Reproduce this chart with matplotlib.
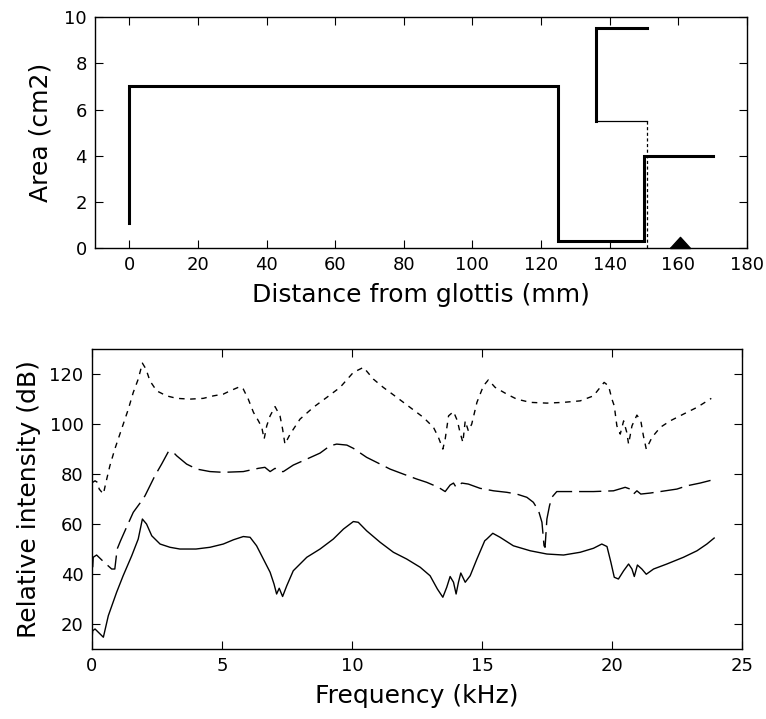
import matplotlib.pyplot as plt

# --- area function (vocal tract + side branch) ---
tract_x = [0, 0, 125, 125, 150, 150, 170]
tract_y = [1.1, 7.0, 7.0, 0.3, 0.3, 4.0, 4.0]
branch_x = [151, 136, 136]
branch_y = [9.55, 9.55, 5.5]
neck_x = [136, 151]
neck_y = [5.5, 5.5]
joint_x = [151, 151]
joint_y = [5.5, 0.0]
lip_x = 160.5

# --- spectra (kHz, dB) ---
solid_f = [0.0, 0.03, 0.12, 0.44, 0.63, 0.95, 1.2, 1.53, 1.78, 1.94, 2.1, 2.3, 2.62, 3.0, 3.38,
           4.0, 4.54, 5.05, 5.44, 5.82, 6.08, 6.33, 6.59, 6.85, 7.0, 7.1, 7.2, 7.33, 7.49, 7.74,
           8.26, 8.77, 9.28, 9.67, 10.05, 10.24, 10.56, 11.08, 11.59, 12.1, 12.62, 13.0, 13.28,
           13.49, 13.64, 13.77, 13.9, 14.0, 14.09, 14.18, 14.35, 14.54, 14.8, 15.1, 15.18, 15.41,
           15.69, 16.2, 16.85, 17.49, 18.13, 18.77, 19.28, 19.6, 19.8, 19.95, 20.08, 20.24, 20.44,
           20.63, 20.76, 20.85, 20.97, 21.14, 21.31, 21.59, 22.1, 22.74, 23.26, 23.64, 23.92]
solid_db = [13.6, 17.3, 18.0, 14.7, 23.3, 32.7, 39.3, 47.3, 54.0, 62.0, 60.0, 55.3, 52.0, 50.7, 50.0,
            50.0, 50.7, 52.0, 53.7, 55.0, 54.7, 51.3, 46.0, 40.7, 36.0, 32.0, 34.3, 31.0, 35.3, 41.3,
            46.7, 50.0, 54.0, 58.0, 61.0, 60.7, 57.3, 52.7, 48.7, 46.0, 42.7, 39.3, 34.0,
            30.7, 34.7, 39.0, 36.7, 32.0, 36.7, 40.4, 36.7, 39.3, 46.0, 53.3, 54.0, 56.3,
            54.7, 51.3, 49.3, 48.0, 47.6, 48.7, 50.3, 52.0, 51.0, 44.7, 38.7, 38.0, 41.3,
            44.0, 42.0, 39.0, 43.6, 42.0, 39.9, 42.0, 44.0, 46.7, 49.3, 52.0, 54.4]

dashed_f = [0.03, 0.05, 0.18, 0.44, 0.76, 0.88, 0.97, 1.1, 1.33, 1.59, 1.85, 2.04, 2.23, 2.42, 2.68,
            2.94, 3.13, 3.26, 3.64, 4.03, 4.54, 5.05, 5.82, 6.4, 6.65, 6.85, 7.04, 7.23, 7.36, 7.74,
            8.26, 8.77, 9.15, 9.41, 9.8, 10.05, 10.56, 11.08, 11.46, 11.97, 12.49, 12.87, 13.32,
            13.58, 13.77, 13.9, 14.0, 14.22, 14.47, 14.92, 15.44, 15.95, 16.33, 16.72, 16.97, 17.17,
            17.3, 17.38, 17.42, 17.49, 17.59, 17.68, 17.87, 18.26, 18.64, 19.28, 20.05, 20.5, 20.69,
            20.82, 20.95, 21.1, 21.46, 22.49, 22.87, 23.38, 23.87]
dashed_db = [42.7, 46.7, 47.6, 45.0, 42.0, 42.0, 50.0, 53.3, 58.7, 64.7, 68.4, 71.3, 75.3, 79.3, 84.0,
             89.0, 88.7, 87.3, 84.0, 82.0, 81.0, 80.7, 81.0, 82.3, 82.7, 81.0, 82.3, 81.0, 81.0, 83.6,
             86.0, 88.4, 91.3, 92.0, 91.6, 90.3, 86.7, 84.0, 82.0, 80.0, 78.0, 76.7, 74.7,
             73.0, 75.6, 76.4, 74.7, 76.4, 76.0, 74.3, 73.3, 72.7, 72.0, 70.7, 68.7, 65.3,
             60.7, 51.3, 50.7, 62.0, 67.3, 70.7, 73.0, 73.0, 73.0, 73.0, 73.3, 74.7, 74.0,
             72.0, 73.3, 72.0, 72.4, 74.0, 75.3, 76.4, 77.7]

dotted_f = [0.03, 0.12, 0.21, 0.28, 0.44, 0.54, 0.69, 0.88, 1.14, 1.4, 1.59, 1.78, 1.94, 2.08, 2.23,
            2.49, 2.87, 3.26, 3.77, 4.28, 4.67, 5.05, 5.31, 5.69, 5.82, 6.01, 6.21, 6.4, 6.53, 6.62,
            6.72, 6.85, 7.04, 7.23, 7.33, 7.42, 7.62, 8.0, 8.51, 9.03, 9.54, 10.05, 10.44, 10.82,
            11.2, 11.72, 12.23, 12.74, 13.13, 13.32, 13.49, 13.58, 13.71, 13.9, 14.05, 14.15, 14.26,
            14.35, 14.47, 14.6, 14.8, 15.05, 15.24, 15.5, 15.95, 16.33, 16.85, 17.49, 18.13, 18.77,
            19.28, 19.69, 19.86, 19.99, 20.08, 20.18, 20.31, 20.44, 20.56, 20.63, 20.76, 20.95,
            21.1, 21.2, 21.31, 21.53, 21.85, 22.23, 22.74, 23.26, 23.81]
dotted_db = [76.7, 77.3, 76.7, 74.0, 72.0, 76.7, 83.3, 90.0, 98.0, 106.0, 112.7, 118.0, 124.4, 122.0, 117.3,
             113.3, 111.3, 110.3, 110.0, 110.3, 111.3, 112.0, 113.3, 115.0, 114.0, 110.0, 104.7, 101.3, 98.7, 94.0,
             99.3, 103.3, 107.0, 103.3, 98.0, 92.0, 96.0, 102.0, 106.7, 110.7, 114.7, 120.7, 122.7, 118.0,
             114.7, 110.7, 106.7, 102.7, 98.7, 94.7, 90.0, 94.0, 103.3, 105.0, 101.3, 96.7, 92.7,
             101.3, 97.3, 100.0, 108.7, 115.3, 117.7, 114.7, 112.0, 110.0, 108.7, 108.4, 108.7, 109.3,
             111.3, 116.7, 115.3, 110.0, 107.3, 99.3, 96.0, 101.3, 96.7, 92.0, 99.3, 103.6,
             101.3, 95.3, 90.0, 94.7, 98.7, 101.3, 104.0, 106.7, 110.3]

fig = plt.figure(figsize=(7.66, 7.19), dpi=100)
tick_fs = 13
label_fs = 18

# top panel: area function
ax1 = fig.add_axes([0.124, 0.655, 0.851, 0.321])
ax1.plot(tract_x, tract_y, color='black', lw=2.2, solid_joinstyle='miter')
ax1.plot(branch_x, branch_y, color='black', lw=2.2, solid_joinstyle='miter')
ax1.plot(neck_x, neck_y, color='black', lw=0.9)
ax1.plot(joint_x, joint_y, color='black', lw=0.9, linestyle=(0, (2.5, 2)))
ax1.plot([lip_x], [0], marker=[(-1, 0), (1, 0), (0, 1.1), (-1, 0)], markersize=16,
         color='black', clip_on=False, zorder=5)
ax1.set_xlim(-10, 180)
ax1.set_ylim(0, 10)
ax1.set_xticks(range(0, 181, 20))
ax1.set_yticks(range(0, 11, 2))
ax1.set_xlabel('Distance from glottis (mm)', fontsize=label_fs, labelpad=6)
ax1.set_ylabel('Area (cm2)', fontsize=label_fs, labelpad=8)

# bottom panel: spectra
ax2 = fig.add_axes([0.120, 0.0974, 0.849, 0.417])
ax2.plot(solid_f, solid_db, color='black', lw=1.0)
ax2.plot(dashed_f, dashed_db, color='black', lw=1.0, linestyle=(0, (16, 5)))
ax2.plot(dotted_f, dotted_db, color='black', lw=1.0, linestyle=(0, (4, 4)))
ax2.set_xlim(0, 25)
ax2.set_ylim(10, 130)
ax2.set_xticks(range(0, 26, 5))
ax2.set_yticks(range(20, 121, 20))
ax2.set_xlabel('Frequency (kHz)', fontsize=label_fs, labelpad=6)
ax2.set_ylabel('Relative intensity (dB)', fontsize=label_fs, labelpad=6)

for ax in (ax1, ax2):
    ax.tick_params(direction='in', top=True, right=True, length=6, pad=6,
                   labelsize=tick_fs)
    for s in ax.spines.values():
        s.set_linewidth(1.0)

fig.savefig('out.png', dpi=100)
